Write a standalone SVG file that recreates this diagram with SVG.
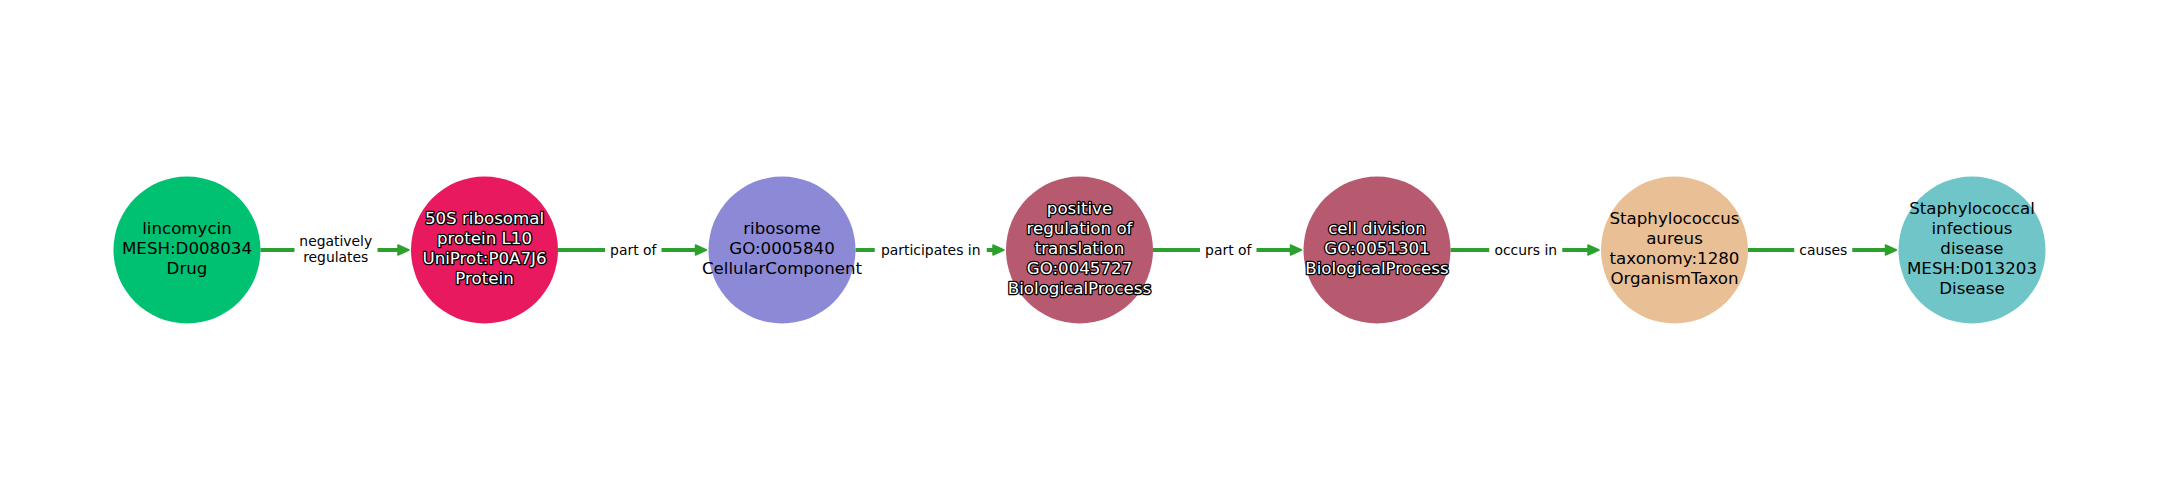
<svg xmlns="http://www.w3.org/2000/svg" width="2160" height="500" viewBox="0 0 2160 500">
<style>
.node text{font-family:"DejaVu Sans",sans-serif;font-size:16.67px;text-anchor:middle;fill:#000}
.node text.halo{fill:#fff;stroke:#000;stroke-width:2.6px;paint-order:stroke;stroke-linejoin:round}
.edge line{stroke:#2ca02c;stroke-width:4}
.edge polygon{fill:#2ca02c;stroke:#2ca02c;stroke-width:1.5;stroke-linejoin:round}
.edge rect{fill:#fff}
.edge text{font-family:"DejaVu Sans",sans-serif;font-size:13.9px;text-anchor:middle;fill:#000}
</style>
<rect width="2160" height="500" fill="#fff"/>
<g id="connectors">
  <g class="edge" id="e1">
    <line x1="260.5" y1="250" x2="402" y2="250"/>
    <polygon points="409,250 398,245 398,255"/>
    <rect x="294.5" y="231" width="83" height="38"/>
    <text x="335.75" y="246">negatively</text>
    <text x="335.75" y="262">regulates</text>
  </g>
  <g class="edge" id="e2">
    <line x1="558" y1="250" x2="700" y2="250"/>
    <polygon points="706.5,250 695.5,245 695.5,255"/>
    <rect x="605" y="239" width="56.5" height="22"/>
    <text x="633.25" y="255">part of</text>
  </g>
  <g class="edge" id="e3">
    <line x1="855.5" y1="250" x2="997" y2="250"/>
    <polygon points="1004,250 993,245 993,255"/>
    <rect x="874.75" y="239" width="112" height="22"/>
    <text x="930.75" y="255">participates in</text>
  </g>
  <g class="edge" id="e4">
    <line x1="1153" y1="250" x2="1295" y2="250"/>
    <polygon points="1301.5,250 1290.5,245 1290.5,255"/>
    <rect x="1200" y="239" width="56.5" height="22"/>
    <text x="1228.25" y="255">part of</text>
  </g>
  <g class="edge" id="e5">
    <line x1="1450.5" y1="250" x2="1592" y2="250"/>
    <polygon points="1599,250 1588,245 1588,255"/>
    <rect x="1489.25" y="239" width="73" height="22"/>
    <text x="1525.75" y="255">occurs in</text>
  </g>
  <g class="edge" id="e6">
    <line x1="1748" y1="250" x2="1890" y2="250"/>
    <polygon points="1896.5,250 1885.5,245 1885.5,255"/>
    <rect x="1794.25" y="239" width="58" height="22"/>
    <text x="1823.25" y="255">causes</text>
  </g>
</g>
<g class="node" id="n1">
  <circle cx="187" cy="250" r="73.5" fill="#00c172"/>
  <text x="187" y="234">lincomycin</text>
  <text x="187" y="254">MESH:D008034</text>
  <text x="187" y="274">Drug</text>
</g>
<g class="node" id="n2">
  <circle cx="484.5" cy="250" r="73.5" fill="#e8195f"/>
  <text class="halo" x="484.5" y="224">50S ribosomal</text>
  <text class="halo" x="484.5" y="244">protein L10</text>
  <text class="halo" x="484.5" y="264">UniProt:P0A7J6</text>
  <text class="halo" x="484.5" y="284">Protein</text>
</g>
<g class="node" id="n3">
  <circle cx="782" cy="250" r="73.5" fill="#8c89d6"/>
  <text x="782" y="234">ribosome</text>
  <text x="782" y="254">GO:0005840</text>
  <text x="782" y="274">CellularComponent</text>
</g>
<g class="node" id="n4">
  <circle cx="1079.5" cy="250" r="73.5" fill="#b75a70"/>
  <text class="halo" x="1079.5" y="214">positive</text>
  <text class="halo" x="1079.5" y="234">regulation of</text>
  <text class="halo" x="1079.5" y="254">translation</text>
  <text class="halo" x="1079.5" y="274">GO:0045727</text>
  <text class="halo" x="1079.5" y="294">BiologicalProcess</text>
</g>
<g class="node" id="n5">
  <circle cx="1377" cy="250" r="73.5" fill="#b75a70"/>
  <text class="halo" x="1377" y="234">cell division</text>
  <text class="halo" x="1377" y="254">GO:0051301</text>
  <text class="halo" x="1377" y="274">BiologicalProcess</text>
</g>
<g class="node" id="n6">
  <circle cx="1674.5" cy="250" r="73.5" fill="#e9bf95"/>
  <text x="1674.5" y="224">Staphylococcus</text>
  <text x="1674.5" y="244">aureus</text>
  <text x="1674.5" y="264">taxonomy:1280</text>
  <text x="1674.5" y="284">OrganismTaxon</text>
</g>
<g class="node" id="n7">
  <circle cx="1972" cy="250" r="73.5" fill="#70c5c9"/>
  <text x="1972" y="214">Staphylococcal</text>
  <text x="1972" y="234">infectious</text>
  <text x="1972" y="254">disease</text>
  <text x="1972" y="274">MESH:D013203</text>
  <text x="1972" y="294">Disease</text>
</g>
</svg>
